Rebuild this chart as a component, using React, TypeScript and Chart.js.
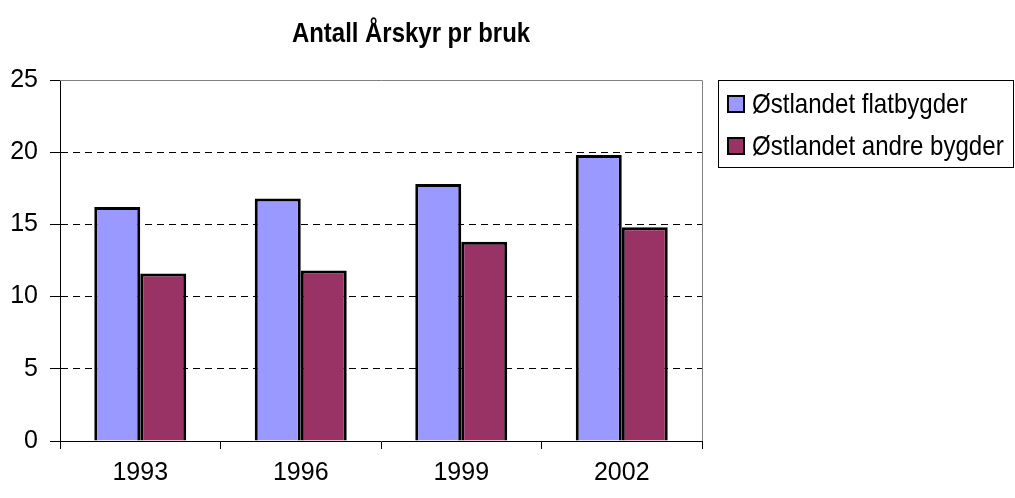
import React, { useEffect, useRef } from "react";
import { Chart, registerables } from "chart.js";

Chart.register(...registerables);

const categories = ["1993", "1996", "1999", "2002"];
const flatbygder = [16.2, 16.8, 17.8, 19.8];
const andreBygder = [11.6, 11.8, 13.8, 14.8];
const seriesNames = ["Østlandet flatbygder", "Østlandet andre bygder"];
const seriesColors = ["#9999FF", "#993366"];
const yMin = 0;
const yMax = 25;
const yStep = 5;
const chartTitle = "Antall Årskyr pr bruk";
const FONT = "'Liberation Sans', Arial, sans-serif";

export default function App() {
  const ref = useRef<HTMLCanvasElement>(null);

  useEffect(() => {
    document.body.style.margin = "0";
    const canvas = ref.current;
    if (!canvas) return;

    const decor = {
      id: "decor",
      afterDraw(chart: any) {
        const { ctx, chartArea: a } = chart;
        ctx.save();
        ctx.strokeStyle = "#808080";
        ctx.lineWidth = 1;
        ctx.setLineDash([]);
        ctx.beginPath();
        ctx.moveTo(a.left, a.top + 0.5);
        ctx.lineTo(a.right + 0.5, a.top + 0.5);
        ctx.lineTo(a.right + 0.5, a.bottom);
        ctx.stroke();

        // title (condensed to mimic Arial Narrow)
        ctx.fillStyle = "#000";
        ctx.font = `bold 28px ${FONT}`;
        ctx.textAlign = "center";
        ctx.textBaseline = "middle";
        ctx.save();
        ctx.translate(411, 34);
        ctx.scale(0.855, 1);
        ctx.fillText(chartTitle, 0, 0);
        ctx.restore();

        // legend
        ctx.strokeStyle = "#000";
        ctx.lineWidth = 1;
        ctx.strokeRect(718.5, 80.5, 295, 87);
        const ds = chart.data.datasets;
        ds.forEach((d: any, i: number) => {
          const cy = 104 + i * 42;
          ctx.fillStyle = d.backgroundColor;
          ctx.fillRect(727, cy - 9, 18, 18);
          ctx.strokeStyle = "#000";
          ctx.lineWidth = 2;
          ctx.strokeRect(728, cy - 8, 16, 16);
          ctx.fillStyle = "#000";
          ctx.font = `28px ${FONT}`;
          ctx.textAlign = "left";
          ctx.textBaseline = "middle";
          ctx.save();
          ctx.translate(752, cy + 1);
          ctx.scale(0.86, 1);
          ctx.fillText(d.label, 0, 0);
          ctx.restore();
        });
        ctx.restore();
      },
    };

    const chart = new Chart(canvas, {
      type: "bar",
      data: {
        labels: categories,
        datasets: [
          {
            label: seriesNames[0],
            data: flatbygder,
            backgroundColor: seriesColors[0],
            borderColor: "#000",
            borderWidth: 3,
            categoryPercentage: 0.573,
            barPercentage: 1,
          },
          {
            label: seriesNames[1],
            data: andreBygder,
            backgroundColor: seriesColors[1],
            borderColor: "#000",
            borderWidth: 3,
            categoryPercentage: 0.573,
            barPercentage: 1,
          },
        ],
      },
      options: {
        responsive: false,
        animation: false,
        devicePixelRatio: 1,
        layout: { padding: { top: 80, right: 313, left: 0, bottom: 0 } },
        plugins: {
          legend: { display: false },
          title: { display: false },
          tooltip: { enabled: false },
        },
        scales: {
          x: {
            type: "category",
            offset: true,
            grid: {
              offset: true,
              drawOnChartArea: false,
              drawTicks: true,
              tickLength: 8,
              color: "#000",
              tickColor: "#000",
            },
            border: { display: true, color: "#000", width: 1 },
            ticks: {
              color: "#000",
              font: { family: FONT, size: 25 },
              padding: 9,
              maxRotation: 0,
            },
            afterFit(scale: any) {
              scale.height = 57;
            },
          },
          y: {
            min: yMin,
            max: yMax,
            grid: {
              color: (c: any) =>
                c.tick && (c.tick.value === yMax || c.tick.value === yMin)
                  ? "rgba(0,0,0,0)"
                  : "#000",
              tickColor: "#000",
              tickLength: 10,
              lineWidth: 1,
              borderDash: [7, 5],
            },
            border: { display: true, color: "#000", width: 1, dash: [7, 5] },
            ticks: {
              stepSize: yStep,
              color: "#000",
              font: { family: FONT, size: 25 },
              padding: 12,
            },
            afterFit(scale: any) {
              scale.width = 60;
            },
          },
        },
      },
      plugins: [decor],
    } as any);

    return () => chart.destroy();
  }, []);

  return (
    <div style={{ position: "absolute", left: 0, top: 0, width: 1015, height: 498, background: "#fff" }}>
      <canvas ref={ref} width={1015} height={498} />
    </div>
  );
}
